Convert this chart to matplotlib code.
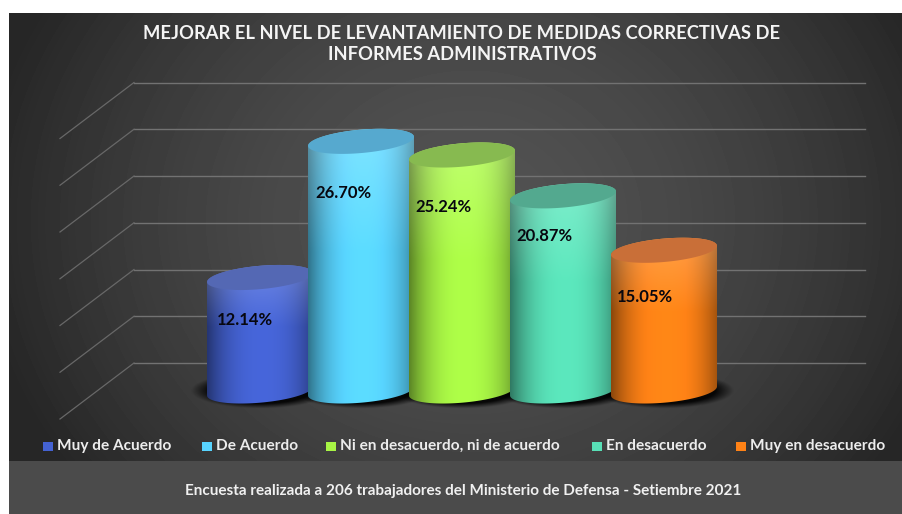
import numpy as np
import matplotlib
matplotlib.use('Agg')
import matplotlib.pyplot as plt
from matplotlib.patches import Rectangle, Polygon

categorias = ['Muy de Acuerdo', 'De Acuerdo', 'Ni en desacuerdo, ni de acuerdo', 'En desacuerdo', 'Muy en desacuerdo']
valores = [12.14, 26.70, 25.24, 20.87, 15.05]
etiquetas = ['12.14%', '26.70%', '25.24%', '20.87%', '15.05%']
lineas_guia = [0, 5, 10, 15, 20, 25, 30]

titulo = 'MEJORAR EL NIVEL DE LEVANTAMIENTO DE MEDIDAS CORRECTIVAS DE\nINFORMES ADMINISTRATIVOS'
pie = 'Encuesta realizada a 206 trabajadores del Ministerio de Defensa - Setiembre 2021'

colores = ['#4462d2', '#58d4ff', '#a8f545', '#58dfb6', '#ff8216']
colores_tapa = ['#5468b4', '#56a9cf', '#87ba50', '#53a98f', '#c96f38']
leyenda_x = [43, 202, 326, 592, 736]

# escala: 101 px por categoria, 9.35 px por punto porcentual
ORIGEN_X = 260.0
PX_X = 101.0
PX_Y = 9.35
RADIO = 53.0 / PX_X
ALTO = 11.7 / PX_Y
INCL = 4.5 / PX_Y
FONDO = 28 / PX_Y

plt.rcParams['font.family'] = ['Lato', 'DejaVu Sans']

fig = plt.figure(figsize=(9.02, 5.14), dpi=100, facecolor='white')

# capa de fondo, en pixeles
bg = fig.add_axes([0, 0, 1, 1])
bg.axis('off')

yy, xx = np.mgrid[13:461, 9:902]
dist = np.sqrt(((xx - 470) / 480.0) ** 2 + ((yy - 220) / 420.0) ** 2)
panel = np.clip(0x52 - (0x52 - 0x28) * dist ** 1.7, 0x26, 0x52) / 255.0
bg.imshow(panel, extent=(9, 902, 461, 13), cmap='gray', vmin=0, vmax=1, aspect='auto', zorder=0)
bg.add_patch(Rectangle((9, 461), 893, 53, facecolor='#4b4b4b', edgecolor='none', zorder=1))
bg.set_xlim(0, 902)
bg.set_ylim(514, 0)

bg.text(462, 44, titulo, color='#f4f4f4', fontsize=13.2, fontweight='bold', ha='center', va='center',
        linespacing=1.27, zorder=5)
bg.text(463, 491, pie, color='#f0f0f0', fontsize=10.95, fontweight='bold', ha='center', va='center', zorder=5)

for i, nombre in enumerate(categorias):
    bg.add_patch(Rectangle((leyenda_x[i], 442), 10, 9, facecolor=colores[i], edgecolor='none', zorder=5))
    bg.text(leyenda_x[i] + 14, 446, nombre, color='#ececec', fontsize=11.05, fontweight='bold', ha='left', va='center',
            zorder=5)

# capa del grafico, en categorias y porcentaje
ax = fig.add_axes([0, 0, 1, 1])
ax.patch.set_alpha(0)
ax.axis('off')
x_min, x_max = -ORIGEN_X / PX_X, (902 - ORIGEN_X) / PX_X
y_min, y_max = (391 - 514) / PX_Y, 391 / PX_Y


def elipse(xc, yc, t):
    return xc + RADIO * np.cos(t), yc + ALTO * np.sin(t) + INCL * np.cos(t)


def imagen(arr, extent, z, camino=None):
    im = ax.imshow(arr, extent=extent, aspect='auto', origin='upper', zorder=z, interpolation='bilinear')
    if camino is not None:
        p = Polygon(camino, closed=True, facecolor='none', edgecolor='none', transform=ax.transData)
        ax.add_patch(p)
        im.set_clip_path(p)
    return im


# lineas de la pared y el piso
pared_x = (134 - ORIGEN_X) / PX_X
frente_x = (60 - ORIGEN_X) / PX_X
fin_x = (865 - ORIGEN_X) / PX_X
for g in lineas_guia:
    ax.plot([pared_x, fin_x], [g + FONDO, g + FONDO], color='#727272', lw=1.0, zorder=1)
    ax.plot([frente_x, pared_x], [g - FONDO, g + FONDO], color='#686868', lw=0.9, zorder=1)

# sombra de las barras sobre el piso
for i in range(len(valores)):
    gy, gx = np.mgrid[-1.5:1.5:80j, -1.5:1.5:120j]
    d = np.sqrt(gx ** 2 + gy ** 2)
    sombra = np.zeros(d.shape + (4,))
    sombra[..., 3] = np.clip((1.32 - d) / 0.35, 0, 1) * 0.9
    ancho = 1.5 * RADIO
    alto = 1.5 * (ALTO + 0.2)
    imagen(sombra, (i - ancho, i + ancho, -alto, alto), 2)

for i, v in enumerate(valores):
    base = np.array(matplotlib.colors.to_rgb(colores[i]))
    tapa = np.array(matplotlib.colors.to_rgb(colores_tapa[i]))
    z = 3 + i * 2

    # cuerpo del cilindro con degradado horizontal
    u = np.linspace(-1, 1, 120)
    w = np.linspace(1, 0, 160)
    uu, ww = np.meshgrid(u, w)
    f = 0.60 + 0.44 * (1 - np.abs(uu - 0.05) ** 2.4)
    cuerpo = base[None, None, :] * f[..., None]
    claro = np.clip((ww - 0.55) / 0.45, 0, 1)[..., None] * 0.22
    cuerpo = np.clip(cuerpo + (1 - cuerpo) * claro, 0, 1)

    t1 = np.linspace(np.pi, 2 * np.pi, 80)
    t2 = np.linspace(0, np.pi, 80)
    xa, ya = elipse(i, 0, t1)
    xb, yb = elipse(i, v, t2)
    camino = np.column_stack([np.r_[xa, xb], np.r_[ya, yb]])
    imagen(cuerpo, (i - RADIO, i + RADIO, -ALTO - INCL, v + ALTO + INCL), z, camino)

    # tapa
    xt, yt = elipse(i, v, np.linspace(0, 2 * np.pi, 160))
    ax.fill(xt, yt, color=tapa, lw=0, zorder=z + 1)

# rotulos de porcentaje
desplaza = [43, 52, 52, 40, 47]
corre_x = [-15, -17.5, -18.5, -19, -19]
for i, v in enumerate(valores):
    ax.text(i + corre_x[i] / PX_X, v - desplaza[i] / PX_Y, etiquetas[i], color='#07070f', fontsize=12, fontweight='bold',
            ha='center', va='center', zorder=20)

ax.set_xlim(x_min, x_max)
ax.set_ylim(y_min, y_max)

fig.savefig('out.png', dpi=100)
